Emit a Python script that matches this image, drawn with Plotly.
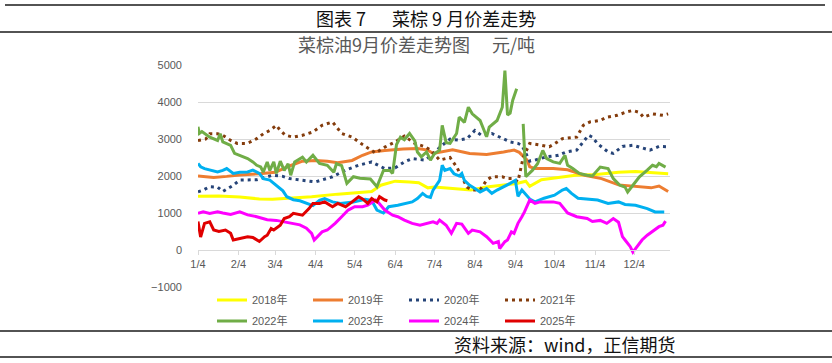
import plotly.graph_objects as go

YEAR = "2001"  # dummy non-leap year: only month/day is shown

# ---------------- data ----------------
d2018 = ["01-04","01-20","02-05","02-20","03-02","03-15","04-01","04-21","05-04","05-17","05-24","06-04","06-15","06-22","06-29","07-04","07-18","08-01","08-13","08-26","09-05","09-12","09-15","09-24","10-04","10-20","11-05","11-22","12-05","12-20","12-30"]
v2018 = [1450,1460,1430,1380,1370,1400,1440,1510,1540,1580,1750,1860,1840,1820,1680,1700,1660,1620,1700,1750,1800,1860,1720,1900,1950,2020,2040,2100,2120,2080,2060]

d2019 = ["01-04","01-16","01-26","02-05","02-20","03-04","03-15","03-25","04-04","04-13","04-21","05-02","05-10","05-17","05-27","06-10","06-21","06-29","07-03","07-18","07-31","08-13","08-26","09-03","09-07","09-13","09-15","09-19","10-03","10-14","10-27","11-09","11-22","12-05","12-17","12-23","12-30"]
v2019 = [2000,1960,1990,2030,2060,2100,2270,2400,2420,2400,2360,2420,2560,2650,2690,2730,2740,2700,2610,2710,2610,2580,2650,2700,2640,2430,2250,2200,2200,2170,2020,1930,1760,1710,1680,1730,1580]

d2020 = ["01-04","01-08","01-13","01-19","01-23","01-31","02-05","02-11","02-18","03-02","03-10","03-15","03-23","03-31","04-04","04-17","04-27","05-07","05-17","05-27","06-04","06-11","06-17","06-27","07-03","07-10","07-16","07-22","07-29","08-04","08-09","08-17","08-23","08-31","09-06","09-09","09-15","09-19","09-28","10-07","10-13","10-21","10-30","11-02","11-06","11-14","11-18","11-25","12-03","12-10","12-16","12-23","12-30"]
v2020 = [1570,1620,1710,1700,1580,1750,1890,1890,1900,2020,1990,1930,1890,1840,1840,1980,2160,2290,2380,2200,2220,2380,2470,2430,2600,2830,3000,2970,3010,3230,3100,3150,3050,2920,2880,2830,2400,2430,2520,2560,2650,2700,3100,3050,2870,2650,2610,2800,2830,2760,2700,2800,2790]

d2021 = ["01-04","01-10","01-13","01-19","01-23","01-29","02-03","02-10","02-13","02-18","02-23","02-28","03-05","03-08","03-12","03-18","03-25","04-02","04-09","04-17","04-24","05-02","05-10","05-20","05-27","06-04","06-11","06-19","06-27","07-01","07-08","07-16","07-21","07-25","07-29","08-02","08-08","08-13","08-17","08-25","08-29","09-02","09-06","09-10","09-15","09-24","09-30","10-04","10-10","10-21","10-26","10-31","11-08","11-13","11-21","11-28","12-03","12-08","12-11","12-18","12-26","12-30"]
v2021 = [2960,3000,3140,3140,3100,2960,2880,2880,2920,3010,3140,3230,3370,3230,3100,3050,3100,3190,3370,3460,3150,3050,2850,2620,2780,2920,3080,2880,2790,2700,2430,2500,2250,1980,1700,1620,1620,1890,1980,1980,1930,1930,1850,2500,2880,2830,2790,2870,3010,3050,3370,3460,3500,3590,3640,3730,3770,3720,3590,3680,3640,3680]

d2022 = ["01-04","01-05","01-07","01-11","01-13","01-19","01-21","01-23","01-29","02-01","02-05","02-11","02-15","02-18","02-21","02-23","02-26","02-28","03-03","03-05","03-08","03-11","03-14","03-16","03-19","03-23","03-25","03-28","04-02","04-07","04-13","04-18","04-20","04-24","04-28","05-03","05-08","05-16","05-21","05-26","05-31","06-02","06-05","06-08","06-11","06-15","06-19","06-21","06-24","06-28","07-01","07-04","07-08","07-10","07-13","07-16","07-21","07-23","07-27","07-30","08-02","08-08","08-13","08-15","08-21","08-25","08-27","08-29","08-31","09-02","09-05","09-08","09-10","09-12","09-17","09-21","09-25","09-28","10-03","10-08","10-12","10-14","10-18","10-23","10-29","11-02","11-08","11-14","11-18","11-23","11-27","11-29","12-03","12-08","12-14","12-18","12-21","12-23","12-28"]
v2022 = [3330,3150,3200,3100,3050,2960,3140,2920,2830,2610,2560,2470,2380,2290,2245,2110,2380,2150,2380,2070,2400,2150,2330,2020,2380,2470,2510,2380,2560,2340,2290,2100,2330,2280,1800,1980,1940,1920,1710,2150,2150,2070,2850,3050,2980,3150,2950,2650,2520,2650,2430,2600,2700,3370,2900,2880,3150,3590,3450,3860,3680,3500,3060,3320,3500,3860,4850,3650,3700,4050,4360,None,3410,1980,2150,2330,2690,2470,2380,2340,2560,2290,2200,2070,2020,2000,2240,2200,1930,1750,1700,1570,1750,1980,2160,2290,2250,2340,2240]

d2023 = ["01-04","01-06","01-09","01-13","01-19","01-23","01-26","01-31","02-05","02-11","02-15","02-20","02-23","02-28","03-05","03-10","03-13","03-18","03-23","03-28","04-02","04-07","04-11","04-17","04-23","05-03","05-12","05-17","05-21","05-26","05-30","06-06","06-11","06-17","06-21","06-25","06-28","07-01","07-03","07-08","07-10","07-12","07-16","07-19","07-23","07-25","07-27","07-31","08-04","08-08","08-13","08-17","08-21","08-26","08-31","09-04","09-06","09-09","09-15","09-19","09-26","10-04","10-10","10-13","10-17","10-22","10-30","11-06","11-14","11-22","11-27","12-05","12-14","12-20","12-27"]
v2023 = [2340,2250,2200,2160,2110,2150,2200,2070,2100,2110,2160,2070,1930,1890,1750,1600,1440,1360,1330,1260,1200,1340,1390,1300,1260,1300,1370,1340,1080,1000,1170,1210,1260,1300,1390,1530,1450,1420,1620,1880,2290,2150,2200,2060,2000,2070,1880,1750,1660,1570,1660,1530,1620,1700,1800,1880,1450,1620,1380,1300,1400,1480,1620,1660,1530,1400,1380,1350,1260,1300,1230,1210,1120,1030,1030]

d2024 = ["01-04","01-08","01-13","01-19","01-23","01-29","02-05","02-11","02-18","02-26","03-05","03-10","03-15","03-23","03-28","04-01","04-03","04-07","04-09","04-13","04-19","04-24","04-29","05-04","05-10","05-14","05-20","05-22","05-27","06-02","06-06","06-11","06-17","06-23","06-28","07-03","07-06","07-08","07-13","07-17","07-21","07-25","07-30","08-02","08-08","08-13","08-18","08-22","08-23","08-27","08-29","09-01","09-03","09-06","09-09","09-11","09-15","09-19","09-23","10-03","10-08","10-14","10-21","10-29","11-02","11-08","11-13","11-18","11-22","11-25","11-27","12-01","12-03","12-06","12-10","12-14","12-18","12-23","12-26","12-28"]
v2024 = [990,1030,990,1030,1000,960,1030,950,900,820,800,770,720,680,590,450,270,400,490,540,720,900,1080,1170,1170,1210,1350,1290,1080,940,900,810,720,670,720,760,720,810,670,450,720,700,450,540,490,360,180,230,40,225,270,490,450,720,900,1030,1350,1260,1300,1300,1260,1000,900,850,770,800,720,850,750,360,270,90,-60,90,270,400,500,630,670,780]

d2025 = ["01-04","01-06","01-09","01-13","01-16","01-20","01-25","01-29","01-31","02-05","02-11","02-15","02-20","02-24","02-26","03-01","03-03","03-08","03-11","03-15","03-18","03-25","03-30","04-02","04-07","04-11","04-17","04-21","04-27","05-02","05-07","05-10","05-14","05-17","05-21","05-23","05-27","05-29"]
v2025 = [770,350,720,760,540,500,540,450,270,310,360,340,230,360,400,580,540,670,850,900,990,940,1120,1260,1260,1300,1170,1260,1170,1300,1440,1380,1260,1390,1300,1440,1350,1330]

tick_dates = ["01-04","02-04","03-04","04-04","05-04","06-04","07-04","08-04","09-04","10-04","11-04","12-04"]
tick_text = ["1/4","2/4","3/4","4/4","5/4","6/4","7/4","8/4","9/4","10/4","11/4","12/4"]

series = [
    ("2018年", d2018, v2018, "#FFFF00", None, "legend"),
    ("2019年", d2019, v2019, "#ED7D31", None, "legend"),
    ("2020年", d2020, v2020, "#264478", "3px,4px", "legend"),
    ("2021年", d2021, v2021, "#843C0C", "3px,4px", "legend"),
    ("2022年", d2022, v2022, "#70AD47", None, "legend2"),
    ("2023年", d2023, v2023, "#00B0F0", None, "legend2"),
    ("2024年", d2024, v2024, "#FF00FF", None, "legend2"),
    ("2025年", d2025, v2025, "#E00000", None, "legend2"),
]

# ---------------- layout geometry ----------------
W, H = 832, 363
L, R, T, B = 198, 162, 65, 76
PW, PH = W - L - R, H - T - B


def px(x):
    return (x - L) / PW


def py(y):
    return (H - B - y) / PH


def full(md):
    return f"{YEAR}-{md}"


fig = go.Figure()
for name, d, v, color, dash, lg in series:
    fig.add_trace(go.Scatter(
        x=[full(m) for m in d], y=v, mode="lines", name=name,
        line=dict(color=color, width=3, dash=dash),
        legend=lg, connectgaps=False,
    ))

axis_font = dict(family="Liberation Sans, Arial, sans-serif", size=11, color="#595959")
cjk = "Noto Sans CJK SC, sans-serif"
legend_common = dict(
    orientation="h", xref="container", yref="container",
    x=212 / W, xanchor="left", yanchor="middle",
    entrywidth=51, entrywidthmode="pixels", itemwidth=30,
    font=dict(family="Liberation Sans, " + cjk, size=11, color="#595959"),
    bgcolor="rgba(0,0,0,0)",
)

fig.update_layout(
    width=W, height=H,
    margin=dict(l=L, r=R, t=T, b=B, autoexpand=False),
    paper_bgcolor="white", plot_bgcolor="white",
    xaxis=dict(
        type="date", range=[full("01-04"), full("12-31") + " 10:00"],
        tickmode="array", tickvals=[full(m) for m in tick_dates], ticktext=tick_text,
        showgrid=False, zeroline=False, showline=True, linecolor="#D9D9D9", linewidth=1,
        anchor="free", position=1000 / 6000,
        ticks="outside", ticklen=4, tickcolor="#D9D9D9",
        tickfont=axis_font,
    ),
    yaxis=dict(
        range=[-1000, 5000], tickmode="linear", tick0=-1000, dtick=1000,
        showgrid=True, gridcolor="#D9D9D9", gridwidth=1, zeroline=False,
        showline=False, ticks="", tickfont=axis_font, ticklabelstandoff=15,
    ),
    legend=dict(legend_common, y=1 - 300 / H),
    legend2=dict(legend_common, y=1 - 321 / H),
    showlegend=True,
)

# frame lines of the report figure
for y0, x0, x1, w in [(5, 5, 825, 1.3), (32, 0, 832, 1.5), (331, 0, 832, 1.5), (357, 0, 832, 1.3)]:
    fig.add_shape(type="line", xref="paper", yref="paper",
                  x0=px(x0), x1=px(x1), y0=py(y0), y1=py(y0),
                  line=dict(color="#1A1A1A", width=w))

fig.add_annotation(text="图表 7　  菜棕 9 月价差走势", xref="paper", yref="paper",
                   x=px(426), y=py(18), showarrow=False, xanchor="center", yanchor="middle",
                   font=dict(family=cjk, size=18, color="#111111"))
fig.add_annotation(text="菜棕油9月价差走势图　 元/吨", xref="paper", yref="paper",
                   x=px(416), y=py(44), showarrow=False, xanchor="center", yanchor="middle",
                   font=dict(family=cjk, size=18, color="#595959"))
fig.add_annotation(text="资料来源：wind，正信期货", xref="paper", yref="paper",
                   x=px(452), y=py(344), showarrow=False, xanchor="left", yanchor="middle",
                   font=dict(family=cjk, size=18, color="#111111"))

fig.write_html(
    "out.html",
    config={"displayModeBar": False},
    post_script="document.body.style.margin='0';document.body.style.overflow='hidden';",
)
